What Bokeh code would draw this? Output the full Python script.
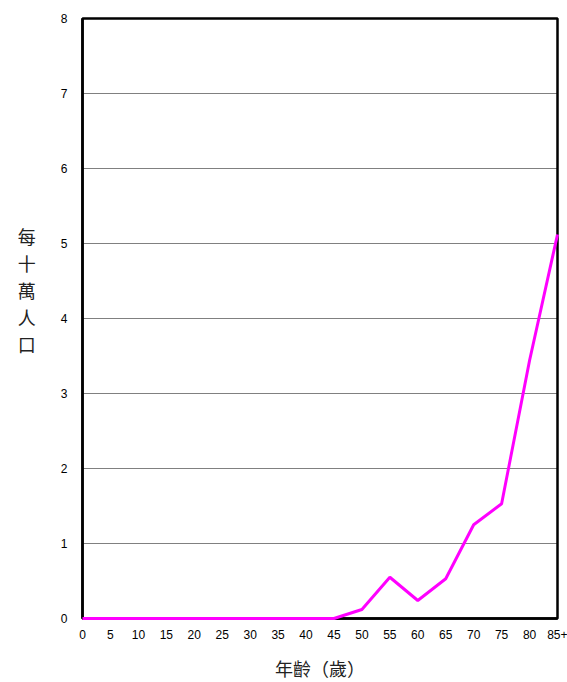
from bokeh.plotting import figure
from bokeh.models import Range1d, FixedTicker
from bokeh.embed import file_html
from bokeh.resources import INLINE

categories = ["0", "5", "10", "15", "20", "25", "30", "35", "40", "45",
              "50", "55", "60", "65", "70", "75", "80", "85+"]
rates = [0, 0, 0, 0, 0, 0, 0, 0, 0, 0,
         0.12, 0.55, 0.24, 0.53, 1.25, 1.53, 3.44, 5.12]
y_ticks = [0, 1, 2, 3, 4, 5, 6, 7, 8]

xs = list(range(len(categories)))

FONT = "'Liberation Sans', 'Noto Sans CJK TC', sans-serif"

p = figure(width=567, height=682, output_backend="svg", toolbar_location=None,
           x_range=Range1d(0, len(categories) - 1), y_range=Range1d(0, 8),
           min_border_left=82, min_border_right=10, min_border_top=18, min_border_bottom=64)

p.line(xs, rates, line_color="#FF00FF", line_width=3, level="overlay")

p.outline_line_color = "black"
p.outline_line_width = 2.5

p.xaxis.ticker = FixedTicker(ticks=xs)
p.xaxis.major_label_overrides = {i: c for i, c in enumerate(categories)}
p.yaxis.ticker = FixedTicker(ticks=y_ticks)

for ax in (p.xaxis, p.yaxis):
    ax.major_tick_line_color = None
    ax.minor_tick_line_color = None
    ax.axis_line_color = "black"
    ax.axis_line_width = 2.5
    ax.major_label_text_font = FONT
    ax.major_label_text_font_size = "12px"
    ax.major_label_text_color = "black"
    ax.axis_label_text_font = FONT
    ax.axis_label_text_font_size = "18px"
    ax.axis_label_text_font_style = "normal"
    ax.axis_label_text_color = "#222222"

p.xaxis.major_label_standoff = 5
p.yaxis.major_label_standoff = 9
p.xaxis.axis_label = "年齡（歲）"
p.xaxis.axis_label_standoff = 18
p.yaxis.axis_label = "每\n十\n萬\n人\n口\n\n"
p.yaxis.axis_label_orientation = "horizontal"
p.yaxis.axis_label_standoff = 22
p.yaxis.axis_label_text_line_height = 1.35

p.xgrid.grid_line_color = None
p.ygrid.grid_line_color = "black"
p.ygrid.grid_line_dash = "1 1"
p.ygrid.grid_line_width = 1

open("out.html", "w").write(file_html(p, INLINE))
